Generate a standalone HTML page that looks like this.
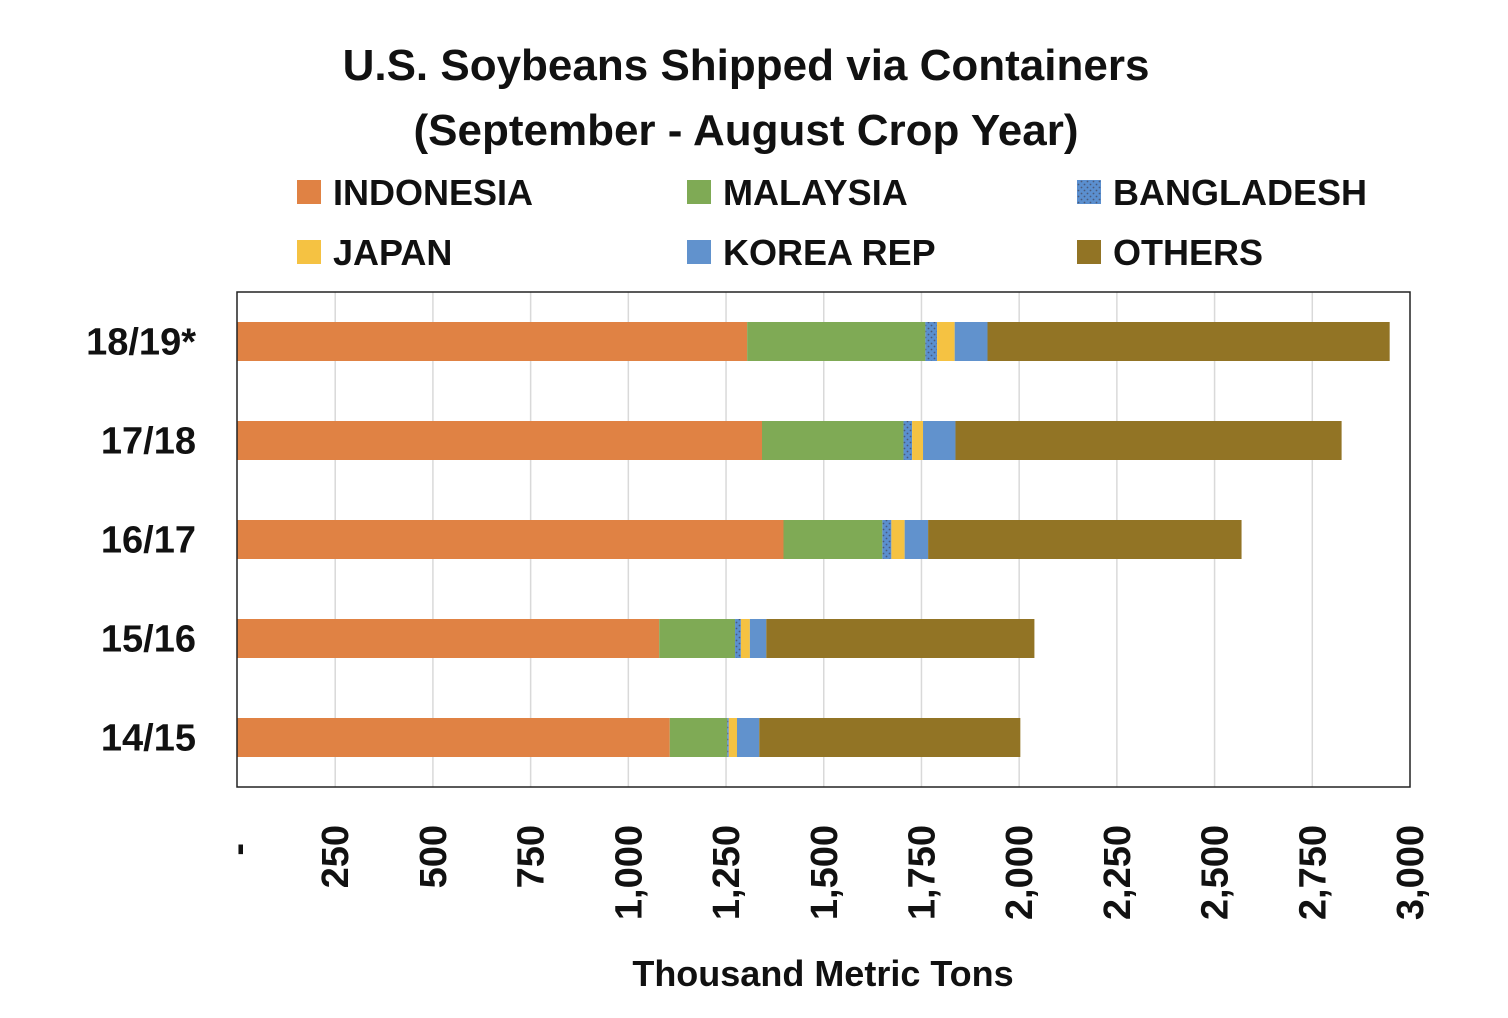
<!DOCTYPE html>
<html><head><meta charset="utf-8"><style>
body{margin:0;background:#fff;}
svg{display:block;font-family:"Liberation Sans",sans-serif;font-weight:bold;}
</style></head><body>
<svg id="chart" width="1508" height="1018" viewBox="0 0 1508 1018">
<defs>
<pattern id="dots" width="6" height="6" patternUnits="userSpaceOnUse">
<rect width="6" height="6" fill="#5b8fcf"/><circle cx="1.5" cy="1.5" r="0.9" fill="#4a5a7a"/><circle cx="4.5" cy="4.5" r="0.9" fill="#4a5a7a"/>
</pattern>
</defs>
<rect width="1508" height="1018" fill="#fff"/>
<text x="746" y="80" font-size="44" text-anchor="middle" fill="#111">U.S. Soybeans Shipped via Containers</text>
<text x="746" y="145" font-size="44" text-anchor="middle" fill="#111">(September - August Crop Year)</text>
<g id="legend"></g>
<g id="grid"></g>
<g id="bars"></g>
<rect x="237" y="292" width="1173" height="495" fill="none" stroke="#222" stroke-width="1.5"/>
<g id="ylabels"></g>
<g id="xlabels"></g>
<text x="823" y="986" font-size="36" text-anchor="middle" fill="#111">Thousand Metric Tons</text>
</svg>
<script>
const categories = ["18/19*", "17/18", "16/17", "15/16", "14/15"];
const seriesNames = ["INDONESIA", "MALAYSIA", "BANGLADESH", "JAPAN", "KOREA REP", "OTHERS"];
const indonesia = [1304, 1342, 1397, 1079, 1106];
const malaysia = [456, 362, 253, 194, 147];
const bangladesh = [30, 22, 23, 15, 4];
const japan = [45, 28, 34, 23, 21];
const korea = [84, 83, 60, 42, 57];
const others = [1029, 988, 802, 686, 668];
const tickValues = [0, 250, 500, 750, 1000, 1250, 1500, 1750, 2000, 2250, 2500, 2750, 3000];
const tickLabels = ["-", "250", "500", "750", "1,000", "1,250", "1,500", "1,750", "2,000", "2,250", "2,500", "2,750", "3,000"];

const NS = "http://www.w3.org/2000/svg";
const colors = ["#e08244", "#7faa55", "url(#dots)", "#f5c242", "#6192cd", "#927425"];
const legendColors = ["#e08244", "#7faa55", "url(#dots)", "#f5c242", "#6192cd", "#927425"];
const series = [indonesia, malaysia, bangladesh, japan, korea, others];
const X0 = 237.5, X1 = 1410, MAX = 3000;
const xScale = v => X0 + v / MAX * (X1 - X0);
const yCenter = i => 341.5 + i * 99;
const barH = 39;
function mk(tag, attrs, parent) {
  const el = document.createElementNS(NS, tag);
  for (const k in attrs) el.setAttribute(k, attrs[k]);
  parent.appendChild(el);
  return el;
}
const grid = document.getElementById("grid");
tickValues.forEach((t, i) => {
  if (i === 0 || i === tickValues.length - 1) return;
  const l = mk("line", {x1: xScale(t), x2: xScale(t), y1: 292, y2: 787, stroke: "#d9d9d9", "stroke-width": 1.5}, grid);
  
  
});
const bars = document.getElementById("bars");
categories.forEach((c, i) => {
  let acc = 0;
  series.forEach((s, j) => {
    const r = mk("rect", {x: xScale(acc), y: yCenter(i) - barH / 2, width: xScale(acc + s[i]) - xScale(acc), height: barH, fill: colors[j]}, bars);
    
    
    acc += s[i];
  });
});
const yl = document.getElementById("ylabels");
categories.forEach((c, i) => {
  const t = mk("text", {x: 196, y: yCenter(i) + 13, "font-size": 38, "text-anchor": "end", fill: "#111"}, yl);
  t.textContent = c;
  
  
});
const xl = document.getElementById("xlabels");
tickValues.forEach((v, i) => {
  const x = xScale(v) + 13;
  const yEnd = i === 0 ? 843 : 825;
  const t = mk("text", {x: x, y: yEnd, "font-size": 38, "text-anchor": "end", fill: "#111", transform: `rotate(-90 ${x} ${yEnd})`}, xl);
  t.textContent = tickLabels[i];
  
  
});
const lg = document.getElementById("legend");
seriesNames.forEach((n, i) => {
  const col = i % 3, row = Math.floor(i / 3);
  const x = 297 + col * 390, y = 180 + row * 60;
  const r = mk("rect", {x: x, y: y, width: 24, height: 24, fill: legendColors[i]}, lg);
  
  
  const t = mk("text", {x: x + 36, y: y + 25, "font-size": 36, fill: "#111"}, lg);
  t.textContent = n;
  
  
});
</script>
</body></html>
